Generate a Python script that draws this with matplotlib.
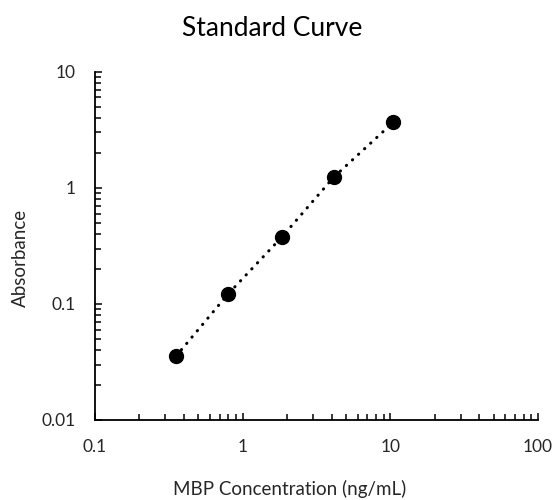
import matplotlib
matplotlib.use("Agg")
import matplotlib.pyplot as plt
from matplotlib.ticker import LogLocator, FixedLocator, FixedFormatter, NullFormatter

# Data
concentration = [0.354, 0.796, 1.84, 4.14, 10.5]   # ng/mL
absorbance = [0.0355, 0.1215, 0.376, 1.236, 3.68]

x_ticks = [0.1, 1, 10, 100]
x_tick_labels = ["0.1", "1", "10", "100"]
y_ticks = [0.01, 0.1, 1, 10]
y_tick_labels = ["0.01", "0.1", "1", "10"]

title = "Standard Curve"
xlabel = "MBP Concentration (ng/mL)"
ylabel = "Absorbance"

plt.rcParams['font.family'] = ['Lato', 'DejaVu Sans']
text_color = "#262626"

fig = plt.figure(figsize=(5.56, 5.0), dpi=100)
ax = fig.add_axes([95/556, 1-420/500, (538-95)/556, (420-71.7)/500])

ax.plot(concentration, absorbance, linestyle=(0, (0.1, 2.6)), color="black",
        linewidth=2.2, dash_capstyle="round", zorder=2)
ax.plot(concentration, absorbance, linestyle="none", marker="o", markersize=10,
        color="black", zorder=3)

ax.set_xscale("log")
ax.set_yscale("log")
ax.set_xlim(0.1, 100)
ax.set_ylim(0.01, 10)

ax.xaxis.set_major_locator(FixedLocator(x_ticks))
ax.xaxis.set_major_formatter(FixedFormatter(x_tick_labels))
ax.yaxis.set_major_locator(FixedLocator(y_ticks))
ax.yaxis.set_major_formatter(FixedFormatter(y_tick_labels))
ax.xaxis.set_minor_locator(LogLocator(base=10, subs=range(2, 10)))
ax.yaxis.set_minor_locator(LogLocator(base=10, subs=range(2, 10)))
ax.xaxis.set_minor_formatter(NullFormatter())
ax.yaxis.set_minor_formatter(NullFormatter())

for s in ["top", "right"]:
    ax.spines[s].set_visible(False)
for s in ["left", "bottom"]:
    ax.spines[s].set_linewidth(1.3)
    ax.spines[s].set_color("black")

ax.tick_params(which="both", direction="in", color="black", width=1.1, labelcolor=text_color,
               labelsize=12.5)
ax.tick_params(which="major", length=5)
ax.tick_params(which="minor", length=4)
ax.tick_params(axis="x", which="major", pad=14)
ax.tick_params(axis="y", which="major", pad=14)

fig.text(272/556, 1-29/500, title, ha="center", va="center", fontsize=19, color="black")
fig.text(290/556, 1-489/500, xlabel, ha="center", va="center", fontsize=13.5, color=text_color)
fig.text(20/556, 1-258/500, ylabel, ha="center", va="center", rotation=90, fontsize=13.5,
         color=text_color)

fig.savefig("out.png", dpi=100)
